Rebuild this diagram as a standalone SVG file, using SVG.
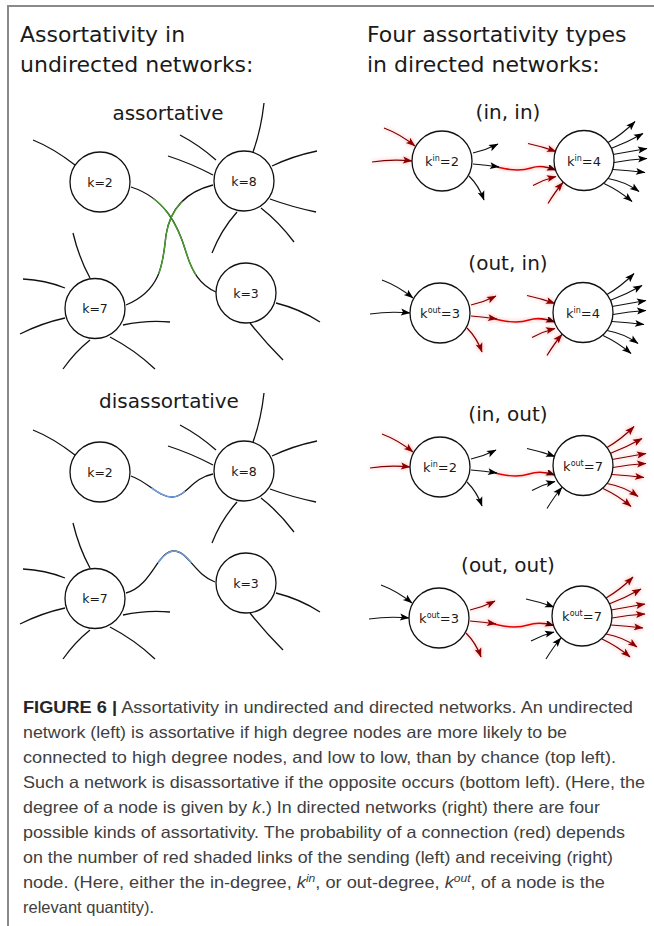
<svg xmlns="http://www.w3.org/2000/svg" xmlns:xlink="http://www.w3.org/1999/xlink" width="654" height="926" viewBox="0 0 654 926">
<style>
  .title { font-family: "DejaVu Sans", sans-serif; font-size: 22px; fill: #1a1a1a; }
  .sub { font-family: "DejaVu Sans", sans-serif; font-size: 20px; fill: #1a1a1a; text-anchor: middle; }
  .klab { font-family: "DejaVu Sans", sans-serif; font-size: 12.5px; fill: #1a1a1a; text-anchor: middle; }
  .dlab { font-family: "DejaVu Sans", sans-serif; font-size: 13px; fill: #1a1a1a; text-anchor: middle; }
  .node { fill: #fff; stroke: #111; stroke-width: 1.3; }
  .stub { fill: none; stroke: #111; stroke-width: 1.3; }
  .edge { fill: none; stroke: #111; stroke-width: 1.3; }
  .green { fill: none; stroke: #47a02a; stroke-width: 1.4; }
  .blue { fill: none; stroke: #6f9fe6; stroke-width: 1.4; }
  .blk { fill: none; stroke: #111; stroke-width: 1.1; marker-end: url(#ahK); }
  .red { fill: none; stroke: #7a0000; stroke-width: 1.2; marker-end: url(#ahR); filter: url(#glow); }
  .conn { fill: none; stroke: url(#connGrad); stroke-width: 1.4; marker-end: url(#ahC); filter: url(#glow); }
  .frame { stroke: #8a8a8a; stroke-width: 2; fill: none; }
  .cap { font-family: "Liberation Sans", Arial, sans-serif; font-size: 16.5px; fill: #404040; }
  .capb { font-weight: bold; fill: #262626; }
</style>
<defs>
  <marker id="ahK" markerUnits="userSpaceOnUse" markerWidth="10" markerHeight="8" refX="9" refY="3.5" orient="auto" overflow="visible">
    <path d="M0,0 L9.5,3.5 L0,7 L2,3.5 z" fill="#000"/>
  </marker>
  <marker id="ahR" markerUnits="userSpaceOnUse" markerWidth="10" markerHeight="8" refX="9" refY="3.5" orient="auto" overflow="visible">
    <path d="M0,0 L9.5,3.5 L0,7 L2,3.5 z" fill="#8a0000"/>
  </marker>
  <marker id="ahC" markerUnits="userSpaceOnUse" markerWidth="10" markerHeight="8" refX="9" refY="3.5" orient="auto" overflow="visible">
    <path d="M0,0 L9.5,3.5 L0,7 L2,3.5 z" fill="#4a0000"/>
  </marker>
  <linearGradient id="connGrad" x1="0" y1="0" x2="1" y2="0">
    <stop offset="0" stop-color="#e00000"/>
    <stop offset="0.72" stop-color="#e00000"/>
    <stop offset="1" stop-color="#600000"/>
  </linearGradient>
  <filter id="glow" x="-40%" y="-40%" width="180%" height="180%">
    <feGaussianBlur in="SourceAlpha" stdDeviation="2" result="b"/>
    <feFlood flood-color="#ff2020" flood-opacity="0.4"/>
    <feComposite in2="b" operator="in" result="g"/>
    <feMerge><feMergeNode in="g"/><feMergeNode in="SourceGraphic"/></feMerge>
  </filter>

  <!-- stubs of the undirected nodes (upper row coordinates) -->
  <g id="stubs-k2">
    <path d="M75,165 Q53,148 33,140"/>
  </g>
  <g id="stubs-k8">
    <path d="M253,152 Q261,130 264,103"/>
    <path d="M216,160 Q199,145 180,135"/>
    <path d="M213,175 Q190,163 168,156"/>
    <path d="M272,166 Q293,156 317,151"/>
    <path d="M270,199 Q292,207 316,212"/>
    <path d="M261,208 Q279,222 294,242"/>
    <path d="M237,212 Q221,230 212,253"/>
  </g>
  <g id="stubs-k3">
    <path d="M276,303 Q300,309 320,322"/>
    <path d="M250,323 Q265,342 283,360"/>
  </g>
  <g id="stubs-k7">
    <path d="M90,278 Q79,258 73,233"/>
    <path d="M65,288 Q45,280 23,279"/>
    <path d="M65,318 Q42,323 20,334"/>
    <path d="M123,325 Q146,320 170,322"/>
    <path d="M90,340 Q75,352 63,369"/>
    <path d="M110,337 Q135,350 155,369"/>
  </g>

  <!-- link bundles of the directed nodes, relative to the node centre -->
  <g id="lin">
    <path d="M-58,-33 Q-42,-27 -27,-15"/>
    <path d="M-70,1 Q-50,-2 -30,0"/>
  </g>
  <g id="lout">
    <path d="M31,-8 Q44,-11 56,-17"/>
    <path d="M27,15 Q37,25 42,39"/>
    <path d="M31,3 Q44,4 57,6"/>
  </g>
  <g id="rin">
    <path d="M-56,-17 Q-42,-14 -28,-9"/>
    <path d="M-51,25 Q-40,19 -28,16"/>
    <path d="M-36,43 Q-28,30 -21,22"/>
  </g>
  <g id="rout">
    <path d="M24,-18 Q38,-26 51,-39"/>
    <path d="M27,-12 Q43,-18 59,-27"/>
    <path d="M29,-6 Q46,-9 63,-12"/>
    <path d="M30,2 Q46,-1 63,-2"/>
    <path d="M29,9 Q45,10 61,12"/>
    <path d="M24,18 Q41,21 55,31"/>
    <path d="M20,23 Q35,30 48,41"/>
  </g>
</defs>

<rect width="654" height="926" fill="#fff"/>

<!-- frame -->
<path class="frame" d="M8,926 L8,6 L654,6"/>

<!-- headings -->
<text class="title" x="20" y="42">Assortativity in</text>
<text class="title" x="20" y="72">undirected networks:</text>
<text class="title" x="367" y="42">Four assortativity types</text>
<text class="title" x="367" y="72">in directed networks:</text>

<text class="sub" x="168" y="120">assortative</text>
<text class="sub" x="169" y="408">disassortative</text>
<text class="sub" x="508" y="119">(in, in)</text>
<text class="sub" x="508" y="270">(out, in)</text>
<text class="sub" x="508" y="421">(in, out)</text>
<text class="sub" x="508" y="572">(out, out)</text>

<!-- connectors -->
<g id="connectors">
  <!-- assortative -->
  <path class="edge" d="M131,187 C165,198 178,225 186,252 C192,272 200,285 216,292"/>
  <path class="green" pathLength="100" stroke-dasharray="63 200" stroke-dashoffset="-18" d="M131,187 C165,198 178,225 186,252 C192,272 200,285 216,292"/>
  <path class="edge" d="M213,185 C185,192 170,210 166,235 C163,262 162,290 126,305"/>
  <path class="green" pathLength="100" stroke-dasharray="49 200" stroke-dashoffset="-22" d="M213,185 C185,192 170,210 166,235 C163,262 162,290 126,305"/>
  <!-- disassortative -->
  <path class="edge" d="M131,476 C148,482 158,497 172,497 C186,497 192,478 213,474"/>
  <path class="blue" pathLength="100" stroke-dasharray="40 200" stroke-dashoffset="-25" d="M131,476 C148,482 158,497 172,497 C186,497 192,478 213,474"/>
  <path class="edge" d="M126,593 C152,586 157,551 174,551 C188,551 195,575 215,582"/>
  <path class="blue" pathLength="100" stroke-dasharray="36 200" stroke-dashoffset="-38" d="M126,593 C152,586 157,551 174,551 C188,551 195,575 215,582"/>
  <!-- directed connections -->
  <path class="conn" d="M497,167 C512,171 522,171 531,168 C540,165 547,167 556,170"/>
  <path class="conn" d="M495,319 C510,323 520,323 529,320 C538,317 546,319 555,322"/>
  <path class="conn" d="M495,473 C510,477 520,477 529,474 C538,471 546,472 555,475"/>
  <path class="conn" d="M494,624 C509,628 519,628 528,625 C537,622 545,623 554,625.5"/>
</g>

<!-- undirected nodes: assortative -->
<g id="a-k2">
  <use xlink:href="#stubs-k2" class="stub"/>
  <circle class="node" cx="100" cy="182" r="30"/>
  <text class="klab" x="100" y="186.5">k=2</text>
</g>
<g id="a-k8">
  <use xlink:href="#stubs-k8" class="stub"/>
  <circle class="node" cx="244" cy="181" r="30"/>
  <text class="klab" x="244" y="185.5">k=8</text>
</g>
<g id="a-k3">
  <use xlink:href="#stubs-k3" class="stub"/>
  <circle class="node" cx="246" cy="293" r="30"/>
  <text class="klab" x="246" y="297.5">k=3</text>
</g>
<g id="a-k7">
  <use xlink:href="#stubs-k7" class="stub"/>
  <circle class="node" cx="95" cy="308.5" r="30"/>
  <text class="klab" x="95" y="313">k=7</text>
</g>

<!-- undirected nodes: disassortative -->
<g id="d-k2" transform="translate(0,290)">
  <use xlink:href="#stubs-k2" class="stub"/>
  <circle class="node" cx="100" cy="182" r="30"/>
  <text class="klab" x="100" y="186.5">k=2</text>
</g>
<g id="d-k8" transform="translate(0,290)">
  <use xlink:href="#stubs-k8" class="stub"/>
  <circle class="node" cx="244" cy="181" r="30"/>
  <text class="klab" x="244" y="185.5">k=8</text>
</g>
<g id="d-k3" transform="translate(0,290)">
  <use xlink:href="#stubs-k3" class="stub"/>
  <circle class="node" cx="246" cy="293" r="30"/>
  <text class="klab" x="246" y="297.5">k=3</text>
</g>
<g id="d-k7" transform="translate(0,290)">
  <use xlink:href="#stubs-k7" class="stub"/>
  <circle class="node" cx="95" cy="308.5" r="30"/>
  <text class="klab" x="95" y="313">k=7</text>
</g>

<!-- directed: (in, in) -->
<g id="ii-left" transform="translate(442,161)">
  <use xlink:href="#lin" class="red"/>
  <use xlink:href="#lout" class="blk"/>
  <circle class="node" r="30"/>
  <text class="dlab" y="5">k<tspan font-size="8" dy="-5">in</tspan><tspan dy="5">=2</tspan></text>
</g>
<g id="ii-right" transform="translate(584,160.5)">
  <use xlink:href="#rin" class="red"/>
  <use xlink:href="#rout" class="blk"/>
  <circle class="node" r="30"/>
  <text class="dlab" y="5">k<tspan font-size="8" dy="-5">in</tspan><tspan dy="5">=4</tspan></text>
</g>

<!-- directed: (out, in) -->
<g id="oi-left" transform="translate(440,313)">
  <use xlink:href="#lin" class="blk"/>
  <use xlink:href="#lout" class="red"/>
  <circle class="node" r="30"/>
  <text class="dlab" y="5">k<tspan font-size="8" dy="-5">out</tspan><tspan dy="5">=3</tspan></text>
</g>
<g id="oi-right" transform="translate(583,312.5)">
  <use xlink:href="#rin" class="red"/>
  <use xlink:href="#rout" class="blk"/>
  <circle class="node" r="30"/>
  <text class="dlab" y="5">k<tspan font-size="8" dy="-5">in</tspan><tspan dy="5">=4</tspan></text>
</g>

<!-- directed: (in, out) -->
<g id="io-left" transform="translate(440,467)">
  <use xlink:href="#lin" class="red"/>
  <use xlink:href="#lout" class="blk"/>
  <circle class="node" r="30"/>
  <text class="dlab" y="5">k<tspan font-size="8" dy="-5">in</tspan><tspan dy="5">=2</tspan></text>
</g>
<g id="io-right" transform="translate(583,465.5)">
  <use xlink:href="#rin" class="blk"/>
  <use xlink:href="#rout" class="red"/>
  <circle class="node" r="30"/>
  <text class="dlab" y="5">k<tspan font-size="8" dy="-5">out</tspan><tspan dy="5">=7</tspan></text>
</g>

<!-- directed: (out, out) -->
<g id="oo-left" transform="translate(439,618)">
  <use xlink:href="#lin" class="blk"/>
  <use xlink:href="#lout" class="red"/>
  <circle class="node" r="30"/>
  <text class="dlab" y="5">k<tspan font-size="8" dy="-5">out</tspan><tspan dy="5">=3</tspan></text>
</g>
<g id="oo-right" transform="translate(582,616)">
  <use xlink:href="#rin" class="blk"/>
  <use xlink:href="#rout" class="red"/>
  <circle class="node" r="30"/>
  <text class="dlab" y="5">k<tspan font-size="8" dy="-5">out</tspan><tspan dy="5">=7</tspan></text>
</g>

<!-- caption -->
<g id="caption" class="cap">
  <text x="23" y="713" textLength="610" lengthAdjust="spacingAndGlyphs"><tspan class="capb">FIGURE 6 |</tspan> Assortativity in undirected and directed networks. An undirected</text>
  <text x="23" y="738" textLength="544" lengthAdjust="spacingAndGlyphs">network (left) is assortative if high degree nodes are more likely to be</text>
  <text x="23" y="763" textLength="593" lengthAdjust="spacingAndGlyphs">connected to high degree nodes, and low to low, than by chance (top left).</text>
  <text x="23" y="788" textLength="622" lengthAdjust="spacingAndGlyphs">Such a network is disassortative if the opposite occurs (bottom left). (Here, the</text>
  <text x="23" y="813" textLength="577" lengthAdjust="spacingAndGlyphs">degree of a node is given by <tspan font-style="italic">k</tspan>.) In directed networks (right) there are four</text>
  <text x="23" y="838" textLength="602" lengthAdjust="spacingAndGlyphs">possible kinds of assortativity. The probability of a connection (red) depends</text>
  <text x="23" y="863" textLength="590" lengthAdjust="spacingAndGlyphs">on the number of red shaded links of the sending (left) and receiving (right)</text>
  <text x="23" y="888" textLength="582" lengthAdjust="spacingAndGlyphs">node. (Here, either the in-degree, <tspan font-style="italic">k</tspan><tspan font-style="italic" font-size="11" dy="-6">in</tspan><tspan dy="6">, or out-degree, </tspan><tspan font-style="italic">k</tspan><tspan font-style="italic" font-size="11" dy="-6">out</tspan><tspan dy="6">, of a node is the</tspan></text>
  <text x="23" y="913" textLength="131" lengthAdjust="spacingAndGlyphs">relevant quantity).</text>
</g>
</svg>
